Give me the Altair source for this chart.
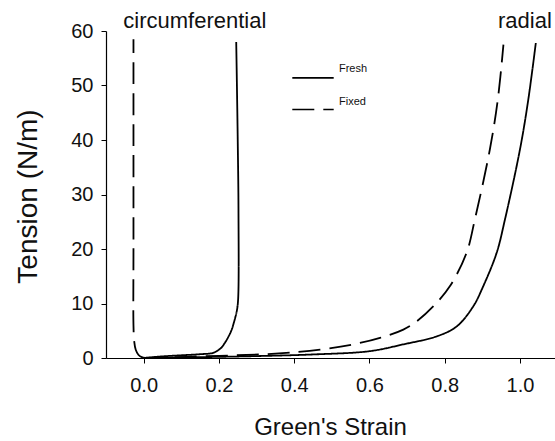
import altair as alt
import pandas as pd

# ---- data ----
fresh_circ_strain = [0.0, 0.05, 0.10, 0.15, 0.185, 0.205, 0.216, 0.226, 0.234, 0.241, 0.2475, 0.251, 0.252, 0.250, 0.246]
fresh_circ_tension = [0.0, 0.3, 0.5, 0.7, 0.95, 1.8, 2.8, 4.0, 5.2, 6.8, 8.6, 10.7, 27.0, 40.0, 58.0]

fixed_circ_strain = [0.004, -0.005, -0.014, -0.021, -0.025, -0.027, -0.027, -0.027, -0.027]
fixed_circ_tension = [0.0, 0.15, 0.6, 1.5, 3.0, 6.0, 20.0, 40.0, 58.5]

fresh_rad_strain = [0.0, 0.15, 0.30, 0.45, 0.60, 0.69, 0.78, 0.832, 0.876, 0.9025, 0.938, 0.960, 1.000, 1.022, 1.042]
fresh_rad_tension = [0.0, 0.15, 0.35, 0.65, 1.25, 2.5, 4.0, 5.8, 9.5, 13.2, 19.3, 25.4, 38.3, 47.4, 57.8]

fixed_rad_strain = [0.0, 0.20, 0.35, 0.469, 0.557, 0.628, 0.690, 0.726, 0.770, 0.814, 0.858, 0.880, 0.920, 0.941, 0.956]
fixed_rad_tension = [0.0, 0.4, 0.8, 1.55, 2.5, 3.7, 5.2, 6.75, 9.5, 13.2, 19.3, 25.4, 38.3, 47.4, 57.5]

x_ticks = [0.0, 0.2, 0.4, 0.6, 0.8, 1.0]
y_ticks = [0, 10, 20, 30, 40, 50, 60]

ann_text = ["circumferential", "radial"]
ann_strain = [-0.054, 0.9416]
ann_tension = [60.6, 60.6]

legend_names = ["Fresh", "Fixed"]
legend_strain = [0.395, 0.395]
legend_strain2 = [0.505, 0.505]
legend_tension = [51.4, 45.6]
legend_text_strain = [0.519, 0.519]
legend_text_tension = [53.0, 47.0]

# ---- tables ----
rows = []
for name, style, xs, ys in [
    ("fresh_circ", "Fresh", fresh_circ_strain, fresh_circ_tension),
    ("fixed_circ", "Fixed", fixed_circ_strain, fixed_circ_tension),
    ("fresh_rad", "Fresh", fresh_rad_strain, fresh_rad_tension),
    ("fixed_rad", "Fixed", fixed_rad_strain, fixed_rad_tension),
]:
    for i, (x, y) in enumerate(zip(xs, ys)):
        rows.append({"series": name, "style": style, "idx": i, "strain": x, "tension": y})
df = pd.DataFrame(rows)

ann = pd.DataFrame({"text": ann_text, "strain": ann_strain, "tension": ann_tension})
leg = pd.DataFrame({"style": legend_names, "x": legend_strain, "x2": legend_strain2,
                    "y": legend_tension, "tx": legend_text_strain, "ty": legend_text_tension})

FONT = "Liberation Sans"
xscale = alt.Scale(domain=[-0.1, 1.093], nice=False, zero=False)
yscale = alt.Scale(domain=[0, 60], nice=False)

dash_scale = alt.Scale(domain=["Fresh", "Fixed"], range=[[1, 0], [22, 9]])

lines = alt.Chart(df).mark_line(color="black", strokeWidth=1.8, clip=True,
                                interpolate="catmull-rom").encode(
    x=alt.X("strain:Q", scale=xscale,
            axis=alt.Axis(values=x_ticks, format=".1f", title="Green's Strain",
                          titleX=224, titleY=69, titleBaseline="middle",
                          titleFontSize=24, labelFontSize=20, labelPadding=12,
                          tickSize=5)),
    y=alt.Y("tension:Q", scale=yscale,
            axis=alt.Axis(values=y_ticks, title="Tension (N/m)",
                          titleX=-78, titleY=165, titleAngle=-90, titleBaseline="middle",
                          titleAlign="center",
                          titleFontSize=28, labelFontSize=20, labelPadding=8,
                          tickSize=5)),
    strokeDash=alt.StrokeDash("style:N", scale=dash_scale, legend=None),
    detail="series:N",
    order="idx:Q",
)

annots = alt.Chart(ann).mark_text(align="left", baseline="alphabetic", fontSize=22,
                                  font=FONT, color="#111").encode(
    x="strain:Q", y="tension:Q", text="text:N")

leg_dash_scale = alt.Scale(domain=["Fresh", "Fixed"], range=[[1, 0], [7, 5]])
leg_rules = alt.Chart(leg).mark_rule(color="black", strokeWidth=1.6).encode(
    x="x:Q", x2="x2:Q", y="y:Q",
    strokeDash=alt.StrokeDash("style:N", scale=leg_dash_scale, legend=None))
leg_text = alt.Chart(leg).mark_text(align="left", baseline="middle", fontSize=11,
                                    font=FONT, color="#111").encode(
    x="tx:Q", y="ty:Q", text="style:N")

chart = alt.layer(lines, annots, leg_rules, leg_text).properties(
    width=449, height=327,
    autosize=alt.AutoSizeParams(type="none"),
    padding={"left": 106, "top": 31, "right": 0, "bottom": 83},
).configure_view(stroke=None).configure_axis(
    grid=False, domainColor="black", tickColor="black", labelColor="#111",
    titleColor="#111", labelFont=FONT, titleFont=FONT, titleFontWeight="normal",
    domainWidth=1.2,
)

chart.save("out.html", embed_options={"renderer": "svg", "actions": False})
